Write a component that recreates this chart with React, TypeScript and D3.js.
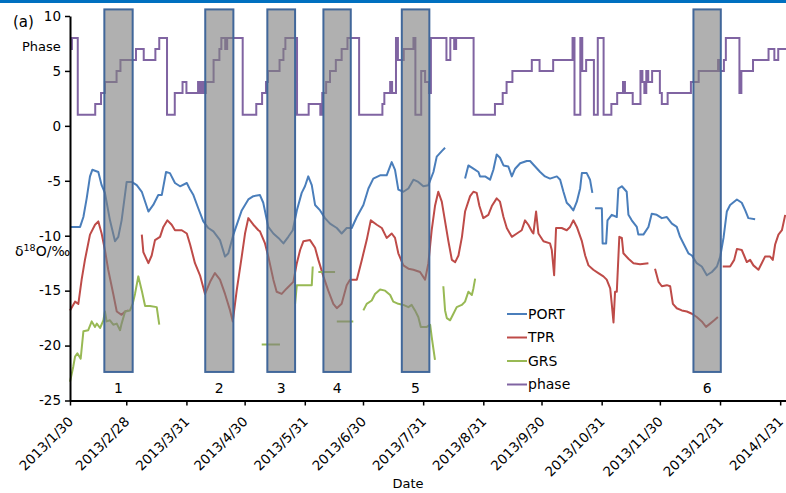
import { useEffect, useRef } from "react";
import * as d3 from "d3";

// days are counted from 2013/1/30
const startDate = new Date(2013, 0, 30);
const endDate = new Date(2014, 1, 3);

const yTicks = [10, 5, 0, -5, -10, -15, -20, -25];
const xTickLabels = [
  "2013/1/30", "2013/2/28", "2013/3/31", "2013/4/30", "2013/5/31", "2013/6/30", "2013/7/31",
  "2013/8/31", "2013/9/30", "2013/10/31", "2013/11/30", "2013/12/31", "2014/1/31",
];

type Pt = [number, number | null];

const portData: Pt[] = [
  [0, -9.2], [5.2, -9.2], [6.9, -8.3], [8.6, -6.6], [10.3, -4.6], [11.5, -4.0], [14.6, -4.2], [16.3, -5.4],
  [18, -6.1], [20.6, -8.6], [23.2, -10.5], [24.9, -10.1], [26.6, -8.6], [29.2, -5.1], [31.8, -5.1], [34.4, -5.4],
  [37, -6.0], [40.4, -7.8], [42.9, -7.2], [45.5, -6.3], [47.3, -6.3], [49.5, -4.2], [51.5, -4.3], [54.1, -5.2],
  [56.7, -5.5], [60.2, -5.2], [61.9, -5.8], [63.6, -6.3], [66.1, -7.5], [68.7, -8.7], [71.3, -9.3], [73.9, -9.6],
  [77.3, -10.4], [79.9, -11.9], [81.6, -11.6], [84.2, -9.9], [88.5, -7.7], [91.9, -6.7], [94.5, -6.4], [97.9, -6.3],
  [99.6, -7.0], [102.2, -9.2], [104.8, -9.8], [107.4, -10.2], [110, -10.7], [112.5, -10.1], [114.8, -9.5],
  [116.9, -7.7], [119.4, -6.1], [121.1, -5.5], [122.8, -4.6], [124.6, -5.4], [126.3, -7.2], [128.9, -7.7],
  [131.4, -8.4], [134, -8.9], [137.5, -9.3], [140, -9.8], [142.6, -9.3], [145.2, -9.3], [147.8, -8.3],
  [151.2, -7.2], [153.8, -5.7], [156.3, -4.8], [159.8, -4.5], [163.2, -4.5], [165.8, -3.3], [167.5, -4.0],
  [169.2, -5.8], [171.8, -6.0], [174.4, -5.7], [177, -4.9], [179.5, -5.1], [182.1, -5.5], [184.7, -5.4],
  [187.3, -4.2], [189, -2.8], [191.6, -2.3], [193.3, -2.0], [194, null],
  [203.6, -4.8], [205.3, -3.6], [207.9, -3.9], [210.5, -4.2], [211.3, -4.6], [213.9, -4.6], [216.5, -4.9],
  [218.2, -4.0], [219.9, -2.6], [221.6, -2.9], [223.4, -3.6], [225.9, -3.7], [227.7, -4.6], [229.4, -3.9],
  [232, -3.4], [235.4, -3.2], [237.1, -3.2], [239.7, -3.7], [242.3, -4.2], [244.8, -4.6], [247.4, -4.8],
  [250.9, -4.6], [252.6, -4.9], [254.3, -6.0], [256, -7.0], [257.7, -7.3], [259.4, -7.7], [261.2, -6.9],
  [262.9, -5.7], [263.8, -4.3], [266.3, -4.3], [268, -4.9], [269.2, -6.1], [270, null],
  [270.6, -7.5], [274.1, -7.5], [274.5, -10.7], [276.3, -10.7], [277, -8.6], [279.2, -8.1], [281.8, -8.3],
  [282.6, -5.7], [284.4, -5.5], [286.9, -6.0], [287.8, -8.1], [289.5, -8.6], [292.1, -9.2], [292.9, -9.9],
  [295.5, -9.9], [298.1, -9.2], [299.8, -8.0], [302.4, -8.1], [305, -8.4], [307.6, -8.3], [310.2, -8.9],
  [312.7, -9.2], [314.4, -10.1], [317, -11.0], [318.7, -11.6], [320.5, -11.8], [323, -12.5], [325.6, -12.8],
  [328.2, -13.6], [330.8, -13.3], [333.4, -12.8], [335.1, -11.9], [336.8, -10.2], [338.5, -7.8], [340.2, -7.2],
  [343.7, -6.7], [346.2, -7.0], [348, -7.7], [349.6, -8.4], [353.1, -8.5],
];

const tprData: Pt[] = [
  [0, -16.8], [2.6, -16.0], [4.3, -16.2], [6, -14.0], [7.7, -12.2], [10.3, -9.9], [12.9, -9.0], [14.6, -8.7],
  [16.3, -9.8], [18, -11.3], [19.7, -13.1], [22.3, -15.3], [24.1, -16.9], [26.6, -17.2], [28.4, -16.9],
  [30.1, -16.8], [31, null],
  [37, -9.9], [37.8, -11.5], [40.4, -12.5], [42.1, -11.8], [43.8, -10.4], [46.4, -10.1], [48.1, -9.2],
  [50.2, -8.6], [52.4, -9.0], [54.1, -9.5], [57.6, -9.5], [60.2, -9.8], [61.9, -10.8], [64.4, -12.5],
  [67, -13.6], [69.6, -15.3], [72.2, -14.2], [74.7, -13.4], [77.3, -14.0], [79.9, -15.3], [82.5, -16.8],
  [83.9, -17.8], [85.9, -15.0], [88.5, -11.9], [90.2, -9.8], [91.9, -8.4], [94.5, -9.0], [97.1, -9.5],
  [97.9, -9.6], [100.5, -10.7], [102.2, -11.9], [104.8, -14.0], [106.5, -15.1], [109.1, -15.3], [111.7, -14.8],
  [115.1, -14.2], [116.9, -12.5], [118.6, -11.3], [120.3, -10.5], [123.7, -10.4], [126.3, -11.1], [128, -12.2],
  [130.6, -13.7], [133.1, -15.0], [135.7, -16.2], [137.5, -16.6], [140, -16.2], [142.6, -14.5], [144.3, -14.0],
  [147.8, -14.0], [150.4, -12.2], [152.9, -10.4], [155, -8.6], [158.1, -9.0], [160.7, -9.3], [163.2, -10.2],
  [165.8, -9.8], [167.5, -10.2], [169.2, -11.6], [171.8, -12.7], [174.4, -13.0], [177, -13.1], [180.4, -13.3],
  [183, -14.0], [184.7, -12.5], [186.4, -9.5], [188.1, -7.3], [189.8, -6.0], [191.6, -6.9], [193.3, -8.7],
  [195, -10.5], [196.8, -12.2], [198.5, -12.4], [200.2, -11.8], [202, -10.1], [203.6, -7.8], [206.2, -6.4],
  [207.9, -6.0], [209.6, -6.1], [211, -7.3], [213, -8.4], [215.6, -8.1], [217.4, -7.3], [219.9, -6.6],
  [221.6, -6.9], [223.4, -8.3], [225.1, -9.3], [227.7, -10.1], [230.3, -9.8], [232.8, -9.5], [234.5, -8.6],
  [236.2, -9.0], [238, -9.6], [238.8, -9.8], [240.2, -7.8], [241.4, -9.8], [244, -10.5], [247.4, -10.7],
  [248.3, -11.3], [249.5, -13.6], [250.5, -9.3], [253.4, -9.3], [256, -9.5], [257.7, -9.2], [259.4, -8.6],
  [261.2, -9.2], [263.8, -10.5], [265.5, -11.8], [267.2, -12.7], [269.7, -13.1], [272.3, -13.4], [274.9, -13.7],
  [276.6, -14.0], [278.4, -14.8], [279.2, -16.2], [280.1, -17.9], [280.9, -15.1], [281.8, -15.1], [283.1, -10.1],
  [284.4, -10.2], [285.2, -11.6], [287.8, -12.1], [290.4, -12.5], [293.8, -12.6], [298.1, -12.5], [299, null],
  [301.5, -13.0], [303.3, -14.2], [305, -14.6], [307.6, -14.5], [309.3, -14.6], [310.7, -16.2], [312.7, -16.6],
  [315.3, -16.8], [317.9, -16.9], [320.5, -17.1], [323, -17.4], [325.6, -17.8], [327.8, -18.3], [329.9, -18.0],
  [332, -17.7], [333.9, -17.4], [335, null],
  [336.4, -12.8], [340.2, -12.8], [342.3, -12.2], [343.7, -11.2], [346.2, -11.3], [347.4, -11.8], [348.8, -12.4],
  [350.5, -12.2], [352.2, -12.7], [354.8, -13.1], [356.5, -12.5], [358.2, -11.9], [360.8, -11.9], [362.2, -12.2],
  [363.4, -10.8], [365.1, -9.9], [366.9, -9.5], [368.6, -8.1],
];

const grsData: Pt[] = [
  [0, -23.3], [1.7, -21.9], [2.6, -21.0], [3.8, -20.7], [5.5, -21.2], [6.9, -18.7], [9.4, -18.6], [11.2, -17.8],
  [12.9, -18.3], [13.8, -18.0], [15.5, -18.4], [17.2, -17.7], [18, -16.9], [18.9, -17.8], [20.6, -17.7],
  [22.3, -18.1], [24.1, -18.0], [25.8, -18.6], [26.6, -18.0], [28.4, -16.9], [30.9, -16.8], [32.3, -16.2],
  [33.5, -15.3], [35.2, -13.7], [37, -15.0], [38.7, -16.4], [41.2, -16.4], [44.7, -16.5], [46, -18.1], [47, null],
  [98.8, -19.9], [108.2, -19.9], [110, null],
  [116, -16.2], [116.9, -14.5], [124.6, -14.5], [125.1, -12.8], [126, null],
  [128, -13.3], [136.6, -13.3], [137, null],
  [137.5, -17.8], [146, -17.8], [148, null],
  [151.2, -16.8], [152.9, -16.2], [155.5, -15.9], [157.2, -15.3], [159.8, -14.9], [162.4, -15.0], [165, -15.4],
  [166.6, -16.0], [169.2, -16.2], [171.8, -16.3], [174.4, -16.5], [176.1, -16.3], [177.8, -16.8], [179.5, -17.4],
  [180.8, -18.3], [183.9, -18.3], [185.6, -18.1], [186.4, -19.2], [188.1, -21.3], [189, null],
  [192.4, -14.6], [193.3, -16.8], [194.2, -17.5], [195.9, -17.7], [197.6, -17.1], [199.3, -16.5], [201.9, -16.3],
  [203.6, -16.0], [205.3, -15.1], [207.1, -15.4], [207.9, -14.8], [208.8, -13.9],
];

// phase: day where a new phase value starts
const phaseData: [number, number][] = [
  [0, 7], [1, 8], [4, 1], [13, 2], [16, 3], [18, 4], [24, 5], [26, 6], [34, 7], [38, 6], [44, 7], [46, 8],
  [50, 1], [54, 3], [58, 4], [60, 3], [66, 4], [67, 3], [68, 4], [69, 3], [70, 4], [74, 6], [77, 7], [78, 8],
  [80, 7], [81, 8], [89, 1], [96, 2], [99, 3], [101, 4], [102, 5], [108, 6], [110, 7], [111, 8], [117, 1],
  [123, 2], [129, 1], [130, 3], [132, 4], [134, 5], [137, 6], [140, 7], [143, 8], [149, 1], [161, 2], [162, 3],
  [165, 4], [166, 3], [168, 8], [169, 6], [172, 7], [177, 8], [178, 1], [181, 5], [183, 4], [185, 3], [186, 8],
  [194, 6], [196, 8], [198, 7], [199, 8], [208, 1], [219, 2], [223, 3], [225, 4], [228, 5], [238, 6], [242, 5],
  [249, 6], [259, 8], [260, 1], [263, 8], [264, 5], [266, 6], [270, 1], [272, 8], [275, 1], [279, 2], [282, 3],
  [285, 4], [286, 3], [290, 2], [294, 5], [295, 4], [296, 3], [297, 5], [298, 4], [300, 5], [304, 3], [305, 2],
  [308, 3], [320, 4], [324, 5], [334, 6], [335, 5], [337, 6], [338, 8], [345, 3], [346, 5], [352, 6], [360, 7],
  [363, 6], [365, 7], [369, 7],
];

const eventRanges: [number, number][] = [
  [17.7, 32.3], [69.7, 84.2], [101.7, 116], [130.6, 144.7], [171, 185.2], [321.3, 335.4],
];
const eventLabels = ["1", "2", "3", "4", "5", "6"];
const eventTop = 10.6;
const eventBottom = -22.4;

const seriesNames = ["PORT", "TPR", "GRS", "phase"];
const seriesColors = ["#4a7ebb", "#be4b48", "#98b954", "#8064a2"];

const FONT = "DejaVu Sans, Verdana, sans-serif";

export default function App() {
  const ref = useRef<SVGSVGElement>(null);
  const width = 786;
  const height = 493;

  useEffect(() => {
    const svg = d3.select(ref.current);
    svg.selectAll("*").remove();

    const dayToDate = (d: number) => new Date(startDate.getTime() + d * 86400000);
    const x = d3.scaleTime().domain([startDate, endDate]).range([70, 786]);
    const y = d3.scaleLinear().domain([-25, 10]).range([400.5, 16]);
    const parse = d3.timeParse("%Y/%m/%d");

    // top strip
    svg.append("rect").attr("x", 0).attr("y", 0).attr("width", width).attr("height", 3).attr("fill", "#0070c0");

    // lines
    const line = d3.line<Pt>()
      .defined((d) => d[1] !== null)
      .x((d) => x(dayToDate(d[0])))
      .y((d) => y(d[1] as number));

    const plot = svg.append("g");
    const lineSets: [Pt[], string][] = [
      [portData, seriesColors[0]],
      [tprData, seriesColors[1]],
      [grsData, seriesColors[2]],
    ];
    lineSets.forEach(([data, color]) => {
      plot.append("path")
        .datum(data)
        .attr("d", line)
        .attr("fill", "none")
        .attr("stroke", color)
        .attr("stroke-width", 2)
        .attr("stroke-linejoin", "round");
    });

    const phaseLine = d3.line<[number, number]>()
      .curve(d3.curveStepAfter)
      .x((d) => x(dayToDate(d[0])))
      .y((d) => y(d[1]));
    plot.append("path")
      .datum(phaseData)
      .attr("d", phaseLine)
      .attr("fill", "none")
      .attr("stroke", seriesColors[3])
      .attr("stroke-width", 2);

    // shaded events
    const ev = svg.append("g");
    ev.selectAll("rect")
      .data(eventRanges)
      .join("rect")
      .attr("x", (d) => x(dayToDate(d[0])))
      .attr("width", (d) => x(dayToDate(d[1])) - x(dayToDate(d[0])))
      .attr("y", y(eventTop))
      .attr("height", y(eventBottom) - y(eventTop))
      .attr("fill", "#7f7f7f")
      .attr("fill-opacity", 0.62)
      .attr("stroke", "#41679a")
      .attr("stroke-width", 2);
    ev.selectAll("text")
      .data(eventRanges)
      .join("text")
      .attr("x", (d) => (x(dayToDate(d[0])) + x(dayToDate(d[1]))) / 2)
      .attr("y", y(eventBottom) + 16)
      .attr("dy", "0.35em")
      .attr("text-anchor", "middle")
      .attr("font-family", FONT)
      .attr("font-size", 14)
      .attr("fill", "#000")
      .text((_d, i) => eventLabels[i]);

    // y axis
    const yAxis = d3.axisLeft(y).tickValues(yTicks).tickSize(5).tickSizeOuter(0).tickPadding(4)
      .tickFormat((d) => String(d));
    const gy = svg.append("g").attr("transform", "translate(70,0)").call(yAxis);
    gy.select(".domain").attr("stroke", "#000").attr("stroke-width", 2);
    gy.selectAll(".tick line").attr("stroke", "#000").attr("stroke-width", 1.5);
    gy.selectAll(".tick text").attr("font-family", FONT).attr("font-size", 13.5).attr("fill", "#000");

    // x axis
    const xDates = xTickLabels.map((s) => parse(s) as Date);
    const xAxis = d3.axisBottom(x).tickValues(xDates).tickSize(5).tickSizeOuter(0).tickFormat(() => "");
    const gx = svg.append("g").attr("transform", `translate(0,${y(-25)})`).call(xAxis);
    gx.select(".domain").attr("stroke", "#000").attr("stroke-width", 2);
    gx.selectAll(".tick line").attr("stroke", "#000").attr("stroke-width", 1.5);
    gx.selectAll(".tick text").remove();
    svg.append("g")
      .selectAll("text")
      .data(xDates)
      .join("text")
      .attr("transform", (d) => `translate(${x(d) + 4},${y(-25) + 22}) rotate(-45)`)
      .attr("text-anchor", "end")
      .attr("font-family", FONT)
      .attr("font-size", 13.5)
      .attr("fill", "#000")
      .text((_d, i) => xTickLabels[i]);

    // titles
    svg.append("text").attr("x", 13).attr("y", 22).attr("dy", "0.35em")
      .attr("font-family", FONT).attr("font-size", 15).text("(a)");
    svg.append("text").attr("x", 22).attr("y", 46).attr("dy", "0.35em")
      .attr("font-family", FONT).attr("font-size", 13).text("Phase");
    const yl = svg.append("text").attr("x", 15).attr("y", 251).attr("dy", "0.35em")
      .attr("font-family", FONT).attr("font-size", 14);
    yl.append("tspan").text("δ");
    yl.append("tspan").attr("dy", -5).attr("font-size", 9.5).text("18");
    yl.append("tspan").attr("dy", 5).text("O/‰");
    svg.append("text").attr("x", 408).attr("y", 483).attr("dy", "0.35em").attr("text-anchor", "middle")
      .attr("font-family", FONT).attr("font-size", 13).text("Date");

    // legend
    const legendRows = [314, 337.5, 361, 384.5];
    const lg = svg.append("g");
    seriesNames.forEach((name, i) => {
      lg.append("line").attr("x1", 507).attr("x2", 527).attr("y1", legendRows[i]).attr("y2", legendRows[i])
        .attr("stroke", seriesColors[i]).attr("stroke-width", 2);
      lg.append("text").attr("x", 528).attr("y", legendRows[i]).attr("dy", "0.35em")
        .attr("font-family", FONT).attr("font-size", 14).text(name);
    });
  }, []);

  return (
    <svg
      ref={ref}
      width={width}
      height={height}
      style={{ position: "absolute", left: 0, top: 0, background: "#fff" }}
    />
  );
}
